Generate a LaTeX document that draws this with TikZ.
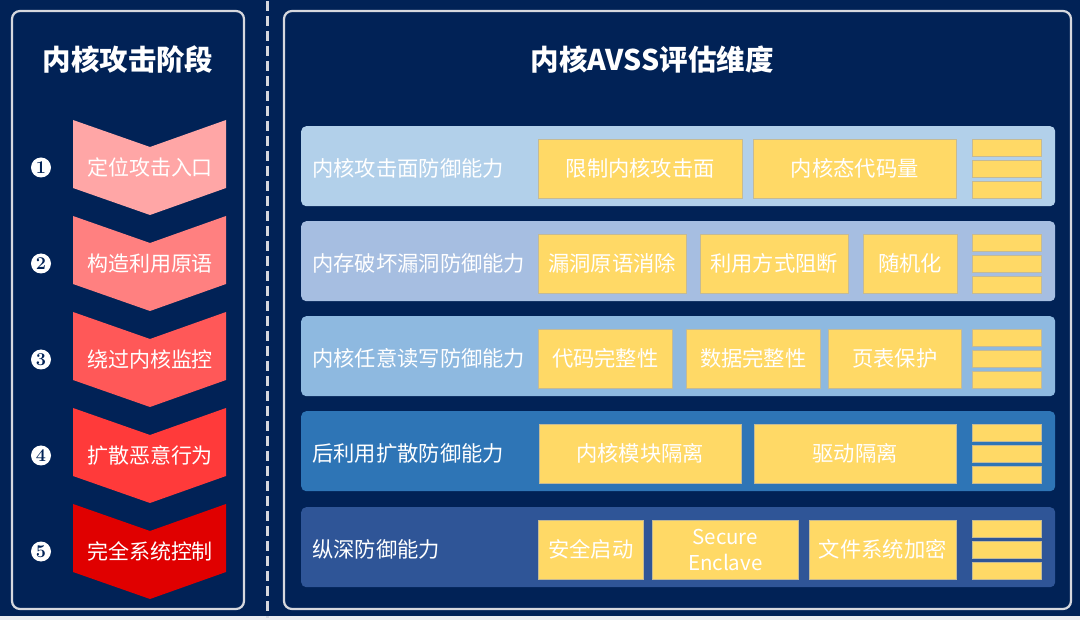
\documentclass[tikz,border=0pt]{standalone}
\usepackage{fontspec}
\newfontfamily\cjk{Noto Sans CJK SC}
\definecolor{navy}{RGB}{1,34,86}
\definecolor{panelgray}{RGB}{214,216,222}
\definecolor{yel}{RGB}{255,217,102}
\definecolor{yelline}{RGB}{196,186,150}
\definecolor{rowA}{RGB}{178,208,234}
\definecolor{rowB}{RGB}{166,190,225}
\definecolor{rowC}{RGB}{142,185,224}
\definecolor{rowD}{RGB}{46,117,182}
\definecolor{rowE}{RGB}{47,85,151}
\definecolor{chA}{RGB}{255,166,166}
\definecolor{chB}{RGB}{255,128,128}
\definecolor{chC}{RGB}{255,88,88}
\definecolor{chD}{RGB}{255,58,58}
\definecolor{chE}{RGB}{224,0,0}
\newcommand\chev[4]{%
  \fill[#2] (73,#1) -- (150,#1+27) -- (226,#1) -- (226,#1+68) -- (150,#1+95) -- (73,#1+68) -- cycle;
  \node[chevtext] (#4) at (150,#1+47.5) {#3};}
\newcommand\ybx[5]{\node[ybox, anchor=north west, minimum width={#2-#1}, minimum height=59] (#5) at (#1,#3) {#4};}
\newcommand\bars[2]{%
  \node[barbox, anchor=north west] (#2a) at (972,#1+13) {};
  \node[barbox, anchor=north west] (#2b) at (972,#1+34) {};
  \node[barbox, anchor=north west] (#2c) at (972,#1+55) {};}
\begin{document}
\begin{tikzpicture}[x=1pt,y=-1pt,
  panel/.style={draw=panelgray, line width=2.2pt, rounded corners=8pt},
  rowbox/.style={rounded corners=5pt, minimum width=754, minimum height=80, anchor=north west, inner sep=0},
  rowlabel/.style={text=white, font=\cjk\fontsize{21.3}{25}\selectfont, anchor=west, inner sep=0},
  chevtext/.style={text=white, font=\cjk\fontsize{21}{25}\selectfont, inner sep=0},
  ybox/.style={fill=yel, draw=yelline, line width=0.5pt, text=white, inner sep=0,
    font=\cjk\fontsize{21.3}{25}\selectfont, align=center},
  barbox/.style={fill=yel, draw=yelline, line width=0.5pt, minimum width=69, minimum height=17, inner sep=0},
  numc/.style={circle, fill=white, minimum size=20pt, inner sep=0, text=navy,
    font=\bfseries\fontsize{18}{18}\selectfont},
  title/.style={text=white, font=\cjk\bfseries\fontsize{28.5}{32}\selectfont, inner sep=0},
  dashline/.style={draw=panelgray, line width=3pt, dash pattern=on 10pt off 5pt}]
\useasboundingbox (0,0) rectangle (1080,620);
\fill[navy] (0,0) rectangle (1080,620);
\fill[white!92!navy] (0,615.5) rectangle (1080,620);
% separator
\coordinate (dtop) at (267,1);
\coordinate (dbot) at (267,618);
\draw[dashline] (dtop) -- (dbot);
% panels
\draw[panel] (12,11) rectangle (244,609);
\draw[panel] (284,11) rectangle (1071,609);
\node[title] (ltitle) at (128,60) {内核攻击阶段};
\node[title] (rtitle) at (652,60) {内核AVSS评估维度};
% chevrons
\chev{120}{chA}{定位攻击入口}{c1}
\chev{216}{chB}{构造利用原语}{c2}
\chev{312}{chC}{绕过内核监控}{c3}
\chev{408}{chD}{扩散恶意行为}{c4}
\chev{504}{chE}{完全系统控制}{c5}
\node[numc] (n1) at (41,167.5) {1};
\node[numc] (n2) at (41,263.5) {2};
\node[numc] (n3) at (41,359.5) {3};
\node[numc] (n4) at (41,455.5) {4};
\node[numc] (n5) at (41,551.5) {5};
% rows
\node[rowbox, fill=rowA] (r1) at (301,126) {};
\node[rowbox, fill=rowB] (r2) at (301,221) {};
\node[rowbox, fill=rowC] (r3) at (301,316) {};
\node[rowbox, fill=rowD] (r4) at (301,411) {};
\node[rowbox, fill=rowE] (r5) at (301,507) {};
\node[rowlabel] (l1) at (312,168.5) {内核攻击面防御能力};
\node[rowlabel] (l2) at (312,263.5) {内存破坏漏洞防御能力};
\node[rowlabel] (l3) at (312,358.5) {内核任意读写防御能力};
\node[rowlabel] (l4) at (312,453.5) {后利用扩散防御能力};
\node[rowlabel] (l5) at (312,549.5) {纵深防御能力};
% yellow boxes
\ybx{538}{742}{139}{限制内核攻击面}{y11}
\ybx{753}{956}{139}{内核态代码量}{y12}
\ybx{538}{686}{234}{漏洞原语消除}{y21}
\ybx{700}{848}{234}{利用方式阻断}{y22}
\ybx{863}{957}{234}{随机化}{y23}
\ybx{538}{672}{329}{代码完整性}{y31}
\ybx{686}{820}{329}{数据完整性}{y32}
\ybx{828}{961}{329}{页表保护}{y33}
\ybx{539}{741}{424}{内核模块隔离}{y41}
\ybx{754}{956}{424}{驱动隔离}{y42}
\ybx{538}{643}{520}{安全启动}{y51}
\node[ybox, anchor=north west, minimum width=146, minimum height=59,
  font=\cjk\fontsize{20.5}{25.5}\selectfont] (y52) at (652,520) {Secure\\Enclave};
\ybx{809}{956}{520}{文件系统加密}{y53}
\bars{126}{b1}
\bars{221}{b2}
\bars{316}{b3}
\bars{411}{b4}
\bars{507}{b5}
\end{tikzpicture}
\end{document}
